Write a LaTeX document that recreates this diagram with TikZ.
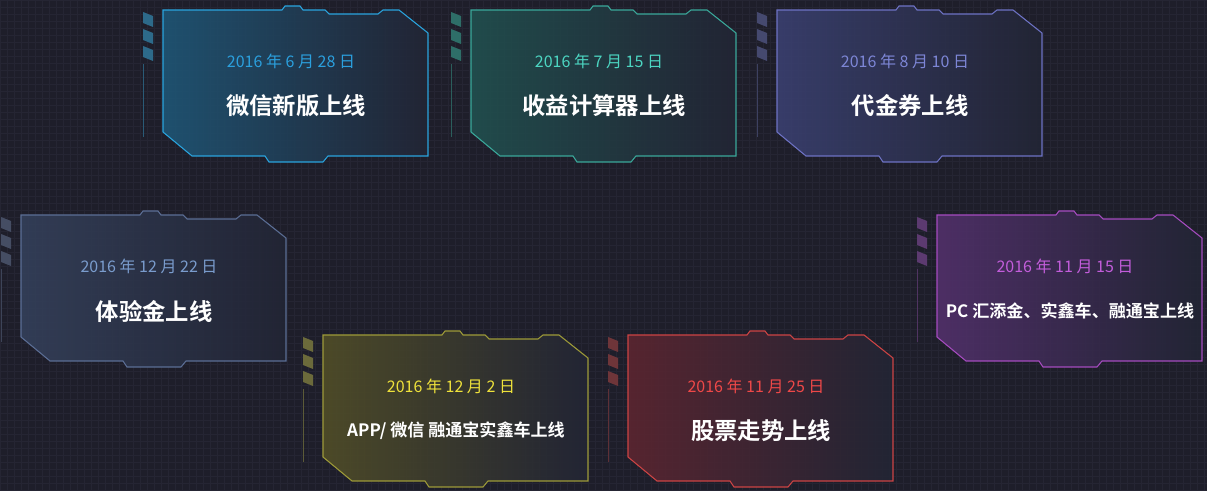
\documentclass[tikz,border=0pt]{standalone}
\usepackage{fontspec}
\newfontfamily\cjk{Noto Sans CJK SC}[BoldFont={Noto Sans CJK SC Bold}]
\usetikzlibrary{calc}
\definecolor{BgClr}{HTML}{1E1E2A}
\definecolor{GridClr}{HTML}{252533}
\definecolor{CardDark}{HTML}{222535}
\definecolor{BlueLine}{HTML}{2AA4DE}
\definecolor{BlueDate}{HTML}{2BA0DE}
\definecolor{BlueFill}{HTML}{1F5676}
\definecolor{BlueStripe}{HTML}{2D6A8A}
\definecolor{TealLine}{HTML}{3AA89A}
\definecolor{TealDate}{HTML}{4CD6C2}
\definecolor{TealFill}{HTML}{21504F}
\definecolor{TealStripe}{HTML}{2E6E68}
\definecolor{IndigoLine}{HTML}{6D72C4}
\definecolor{IndigoDate}{HTML}{7D86D6}
\definecolor{IndigoFill}{HTML}{3A4070}
\definecolor{IndigoStripe}{HTML}{45496F}
\definecolor{SlateLine}{HTML}{5B6E95}
\definecolor{SlateDate}{HTML}{7A9CCD}
\definecolor{SlateFill}{HTML}{34405A}
\definecolor{SlateStripe}{HTML}{454D63}
\definecolor{VioletLine}{HTML}{A54BBF}
\definecolor{VioletDate}{HTML}{C35DDB}
\definecolor{VioletFill}{HTML}{52306B}
\definecolor{VioletStripe}{HTML}{5C3A70}
\definecolor{OliveLine}{HTML}{9D9A38}
\definecolor{OliveDate}{HTML}{EFE23B}
\definecolor{OliveFill}{HTML}{514E27}
\definecolor{OliveStripe}{HTML}{6B6A3B}
\definecolor{RedLine}{HTML}{CC4444}
\definecolor{RedDate}{HTML}{EF4848}
\definecolor{RedFill}{HTML}{5C2530}
\definecolor{RedStripe}{HTML}{6E3539}

% outline of one card, origin at its top left corner
\newcommand\cardpath{(0,0) -- (119,0) -- (122,-4) -- (137,-4) -- (140,0) -- (162,0)
  -- (166,4) -- (215,4) -- (220,0) -- (236,0) -- (265,23) -- (265,146)
  -- (165,146) -- (160,152) -- (106,152) -- (102,146) -- (29,146) -- (0,122) -- cycle}

% #1 name, #2 left, #3 top, #4 colour, #5 date, #6 title, #7 title style
\newcommand\DrawCard[7]{%
  \begin{scope}[shift={(#2,#3)}]
    \foreach \s in {2,19,36}
      \fill[#4Stripe] (-20,\s) -- (-10,\s+4) -- (-10,\s+15) -- (-20,\s+11) -- cycle;
    \draw[#4Stripe!80!BgClr, line width=0.6pt] (-20,54) -- (-20,127);
    \shade[left color=#4Fill, right color=CardDark, fill opacity=0.9] \cardpath;
    \draw[cardline, #4Line] \cardpath;
    \node[datetext, text=#4Date] (#1-date) at (128,51) {#5};
    \node[#7] (#1-title) at (133,96) {#6};
  \end{scope}}

\begin{document}
\begin{tikzpicture}[x=0.75pt, y=-0.75pt,
  cardline/.style={line width=0.8pt, line join=miter},
  datetext/.style={font=\cjk\fontsize{12}{14}\selectfont, inner sep=0pt},
  bigtitle/.style={font=\cjk\bfseries\fontsize{17.5}{19}\selectfont, text=white, inner sep=0pt},
  smalltitle/.style={font=\cjk\bfseries\fontsize{12.8}{14}\selectfont, text=white, inner sep=0pt}]

\useasboundingbox (0,0) rectangle (1207,491);
\fill[BgClr] (0,0) rectangle (1207,491);
\draw[GridClr, line width=0.3pt, step=5.25pt] (0,0) grid (1207,491);

% top row
\DrawCard{c1}{163}{10}{Blue}{2016 年 6 月 28 日}{微信新版上线}{bigtitle}
\DrawCard{c2}{471}{10}{Teal}{2016 年 7 月 15 日}{收益计算器上线}{bigtitle}
\DrawCard{c3}{777}{10}{Indigo}{2016 年 8 月 10 日}{代金券上线}{bigtitle}

% middle row
\DrawCard{c4}{21}{215}{Slate}{2016 年 12 月 22 日}{体验金上线}{bigtitle}
\DrawCard{c5}{937}{215}{Violet}{2016 年 11 月 15 日}{PC 汇添金、实鑫车、融通宝上线}{smalltitle}

% bottom row
\DrawCard{c6}{323}{335}{Olive}{2016 年 12 月 2 日}{APP/ 微信 融通宝实鑫车上线}{smalltitle}
\DrawCard{c7}{628}{335}{Red}{2016 年 11 月 25 日}{股票走势上线}{bigtitle}

\end{tikzpicture}
\end{document}
